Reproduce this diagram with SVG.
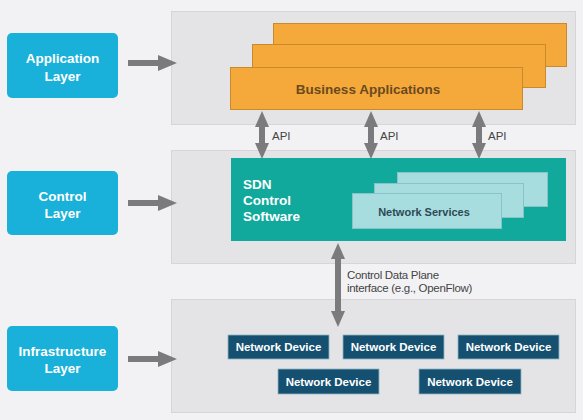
<svg xmlns="http://www.w3.org/2000/svg" width="583" height="420" viewBox="0 0 583 420">
<defs>
<style>
.layer{fill:#19b1d9;}
.layertxt{font-family:"Liberation Sans",Arial,sans-serif;font-weight:bold;font-size:13.5px;fill:#ffffff;text-anchor:middle;}
.panel{fill:#e4e4e6;stroke:#d6d6d8;stroke-width:1;}
.app{fill:#f6a93b;stroke:#c98a2e;stroke-width:1;}
.ns{fill:#a8dde0;stroke:#86c4c8;stroke-width:1;}
.dev{fill:#155070;stroke:#8fb3c4;stroke-width:0.8;}
.devtxt{font-family:"Liberation Sans",Arial,sans-serif;font-weight:bold;font-size:11.5px;fill:#ffffff;text-anchor:middle;}
.lbl{font-family:"Liberation Sans",Arial,sans-serif;font-size:11.5px;fill:#444444;}
.conn{stroke:#7b7b7d;stroke-width:6;fill:none;}
.head{fill:#7b7b7d;}
</style>
</defs>
<rect x="0" y="0" width="583" height="420" fill="#f2f2f4"/>

<g id="application-panel">
<rect class="panel" x="171.5" y="11.5" width="404" height="113"/>
</g>
<g id="control-panel">
<rect class="panel" x="171.5" y="150.5" width="404" height="113"/>
</g>
<g id="infrastructure-panel">
<rect class="panel" x="171.5" y="299.5" width="404" height="113"/>
</g>

<g id="application-layer">
<rect class="layer" x="7" y="33" width="111" height="65" rx="5"/>
<text class="layertxt" x="62.5" y="63">Application</text>
<text class="layertxt" x="62.5" y="81">Layer</text>
</g>
<g id="control-layer">
<rect class="layer" x="7" y="171" width="111" height="64" rx="5"/>
<text class="layertxt" x="62.5" y="201">Control</text>
<text class="layertxt" x="62.5" y="218">Layer</text>
</g>
<g id="infrastructure-layer">
<rect class="layer" x="7" y="326" width="111" height="65" rx="5"/>
<text class="layertxt" x="62.5" y="356">Infrastructure</text>
<text class="layertxt" x="62.5" y="373">Layer</text>
</g>

<g id="business-applications">
<rect class="app" x="273.5" y="23.5" width="293" height="43"/>
<rect class="app" x="252.5" y="44.5" width="293" height="43"/>
<rect class="app" x="230.5" y="67.5" width="292" height="42"/>
<text x="368" y="94" font-family="Liberation Sans,Arial,sans-serif" font-weight="bold" font-size="13.5px" fill="#6a4a20" text-anchor="middle">Business Applications</text>
</g>

<g id="sdn-control-software">
<rect x="231" y="158" width="335" height="83" fill="#11a99c"/>
<text x="243" y="189" font-family="Liberation Sans,Arial,sans-serif" font-weight="bold" font-size="13.5px" fill="#ffffff">SDN</text>
<text x="243" y="205" font-family="Liberation Sans,Arial,sans-serif" font-weight="bold" font-size="13.5px" fill="#ffffff">Control</text>
<text x="243" y="221" font-family="Liberation Sans,Arial,sans-serif" font-weight="bold" font-size="13.5px" fill="#ffffff">Software</text>
</g>

<g id="network-services">
<rect class="ns" x="397.5" y="172.5" width="150" height="34"/>
<rect class="ns" x="374.5" y="183.5" width="149" height="34"/>
<rect class="ns" x="352.5" y="193.5" width="149" height="35"/>
<text x="424" y="216" font-family="Liberation Sans,Arial,sans-serif" font-weight="bold" font-size="11px" fill="#2d4a55" text-anchor="middle">Network Services</text>
</g>

<g id="network-device-1">
<rect class="dev" x="228" y="335" width="101" height="24"/>
<text class="devtxt" x="278.5" y="351">Network Device</text>
</g>
<g id="network-device-2">
<rect class="dev" x="343" y="335" width="101" height="24"/>
<text class="devtxt" x="393.5" y="351">Network Device</text>
</g>
<g id="network-device-3">
<rect class="dev" x="458" y="335" width="101" height="24"/>
<text class="devtxt" x="508.5" y="351">Network Device</text>
</g>
<g id="network-device-4">
<rect class="dev" x="278" y="369" width="101" height="25"/>
<text class="devtxt" x="328.5" y="386">Network Device</text>
</g>
<g id="network-device-5">
<rect class="dev" x="419" y="369" width="102" height="25"/>
<text class="devtxt" x="470" y="386">Network Device</text>
</g>

<g id="connectors">
<line class="conn" x1="128" y1="63" x2="160" y2="63"/>
<polygon class="head" points="158,55 177,63 158,71"/>
<line class="conn" x1="128" y1="203" x2="160" y2="203"/>
<polygon class="head" points="158,195 177,203 158,211"/>
<line class="conn" x1="128" y1="359" x2="160" y2="359"/>
<polygon class="head" points="158,351 177,359 158,367"/>

<line class="conn" x1="262" y1="125" x2="262" y2="145"/>
<polygon class="head" points="255,127 262,111 269,127"/>
<polygon class="head" points="255,143 262,159 269,143"/>
<text class="lbl" x="272" y="140">API</text>

<line class="conn" x1="371" y1="125" x2="371" y2="145"/>
<polygon class="head" points="364,127 371,111 378,127"/>
<polygon class="head" points="364,143 371,159 378,143"/>
<text class="lbl" x="380" y="140">API</text>

<line class="conn" x1="479" y1="125" x2="479" y2="145"/>
<polygon class="head" points="472,127 479,111 486,127"/>
<polygon class="head" points="472,143 479,159 486,143"/>
<text class="lbl" x="488" y="140">API</text>

<line class="conn" x1="338" y1="255" x2="338" y2="315"/>
<polygon class="head" points="331,259 338,243 345,259"/>
<polygon class="head" points="331,311 338,327 345,311"/>
<text class="lbl" x="347" y="279" letter-spacing="-0.3">Control Data Plane</text>
<text class="lbl" x="347" y="292" letter-spacing="-0.3">interface (e.g., OpenFlow)</text>
</g>
</svg>
